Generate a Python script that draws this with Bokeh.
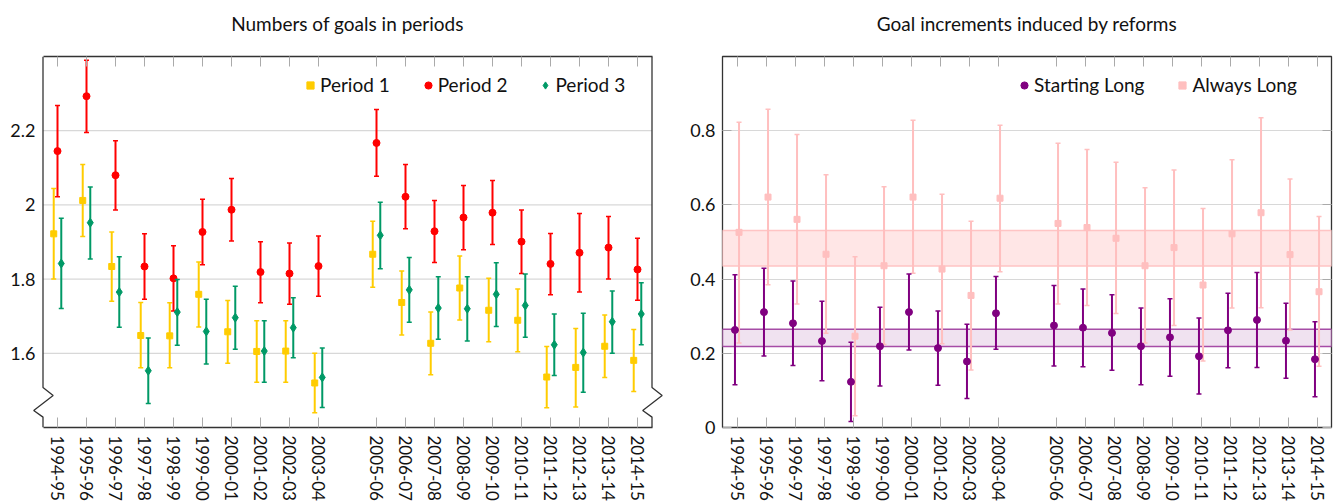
from bokeh.plotting import figure
from bokeh.layouts import row
from bokeh.models import (FixedTicker, CustomJSTickFormatter, LinearAxis, Legend, LegendItem,
                          BoxAnnotation, Range1d)
from bokeh.embed import file_html
from bokeh.resources import INLINE

FONT = "Lato"

seasons = ["1994-95", "1995-96", "1996-97", "1997-98", "1998-99", "1999-00", "2000-01",
           "2001-02", "2002-03", "2003-04", "2005-06", "2006-07", "2007-08", "2008-09",
           "2009-10", "2010-11", "2011-12", "2012-13", "2013-14", "2014-15"]

# Left panel: numbers of goals in periods (mean, lower, upper)
p1_mean = [1.922, 2.012, 1.834, 1.648, 1.647, 1.759, 1.658, 1.605, 1.606, 1.520,
           1.867, 1.737, 1.627, 1.776, 1.716, 1.689, 1.536, 1.562, 1.619, 1.581]
p1_low = [1.800, 1.915, 1.740, 1.561, 1.561, 1.671, 1.573, 1.522, 1.522, 1.440,
          1.778, 1.649, 1.542, 1.690, 1.631, 1.604, 1.453, 1.455, 1.535, 1.497]
p1_high = [2.044, 2.109, 1.927, 1.737, 1.736, 1.846, 1.742, 1.688, 1.688, 1.600,
           1.956, 1.822, 1.711, 1.862, 1.802, 1.773, 1.618, 1.667, 1.703, 1.664]

p2_mean = [2.145, 2.293, 2.080, 1.834, 1.802, 1.927, 1.987, 1.819, 1.815, 1.835,
           2.167, 2.022, 1.929, 1.966, 1.979, 1.901, 1.841, 1.871, 1.885, 1.826]
p2_low = [2.022, 2.195, 1.986, 1.746, 1.714, 1.839, 1.903, 1.736, 1.732, 1.754,
          2.077, 1.936, 1.845, 1.879, 1.893, 1.815, 1.758, 1.765, 1.800, 1.743]
p2_high = [2.268, 2.390, 2.173, 1.922, 1.890, 2.015, 2.071, 1.901, 1.897, 1.916,
           2.257, 2.109, 2.012, 2.052, 2.066, 1.986, 1.923, 1.977, 1.969, 1.910]

p3_mean = [1.842, 1.952, 1.765, 1.553, 1.711, 1.659, 1.696, 1.606, 1.669, 1.535,
           1.918, 1.771, 1.722, 1.720, 1.759, 1.729, 1.623, 1.602, 1.685, 1.706]
p3_low = [1.721, 1.854, 1.670, 1.465, 1.622, 1.571, 1.611, 1.522, 1.588, 1.454,
          1.828, 1.684, 1.638, 1.633, 1.672, 1.643, 1.540, 1.495, 1.600, 1.623]
p3_high = [1.964, 2.048, 1.860, 1.641, 1.799, 1.746, 1.781, 1.688, 1.750, 1.614,
           2.007, 1.858, 1.806, 1.806, 1.844, 1.814, 1.706, 1.708, 1.768, 1.790]

# Right panel: goal increments induced by reforms
sl_mean = [0.263, 0.311, 0.281, 0.233, 0.123, 0.219, 0.311, 0.214, 0.178, 0.308,
           0.275, 0.269, 0.255, 0.219, 0.243, 0.192, 0.262, 0.290, 0.234, 0.184]
sl_low = [0.115, 0.193, 0.167, 0.126, 0.016, 0.112, 0.209, 0.114, 0.078, 0.211,
          0.166, 0.164, 0.154, 0.115, 0.138, 0.090, 0.161, 0.162, 0.133, 0.083]
sl_high = [0.412, 0.429, 0.395, 0.340, 0.230, 0.324, 0.414, 0.314, 0.278, 0.407,
           0.383, 0.373, 0.358, 0.322, 0.347, 0.295, 0.362, 0.418, 0.335, 0.285]

al_mean = [0.526, 0.621, 0.561, 0.467, 0.246, 0.436, 0.621, 0.427, 0.356, 0.618,
           0.550, 0.539, 0.510, 0.436, 0.485, 0.384, 0.522, 0.579, 0.466, 0.366]
al_low = [0.228, 0.385, 0.333, 0.254, 0.032, 0.224, 0.416, 0.226, 0.155, 0.420,
          0.333, 0.329, 0.307, 0.228, 0.275, 0.179, 0.322, 0.323, 0.263, 0.165]
al_high = [0.823, 0.858, 0.790, 0.681, 0.460, 0.649, 0.828, 0.629, 0.556, 0.815,
           0.766, 0.749, 0.715, 0.646, 0.694, 0.590, 0.722, 0.835, 0.670, 0.569]

sl_band = (0.218, 0.265)
al_band = (0.435, 0.531)

left_yticks = [1.6, 1.8, 2.0, 2.2]
right_yticks = [0, 0.2, 0.4, 0.6, 0.8]

titles = ["Numbers of goals in periods", "Goal increments induced by reforms"]

# x position = season start year offset (gap for the missing 2004-05 season)
xpos = [int(s[:4]) - 1994 for s in seasons]
season_labels = {x: s for x, s in zip(xpos, seasons)}

YELLOW, RED, GREEN = "#FFCC00", "#FF0000", "#009966"
PURPLE, PINK = "#800080", "#FFBFBF"
FRAME = "#333333"
TICKC = "#AAAAAA"
GRIDC = "#D8D8D8"
TXT = "#111111"

XLO, XHI = -0.5, 20.5


def base_fig(title, width, xr, yr, yticks, mbl, mbr):
    p = figure(width=width, height=504, output_backend="svg", toolbar_location=None,
               x_range=Range1d(*xr), y_range=Range1d(*yr),
               min_border_left=mbl, min_border_right=mbr, min_border_top=56,
               min_border_bottom=77)
    p.xgrid.visible = False
    p.ygrid.grid_line_color = GRIDC
    p.ygrid.grid_line_width = 1.2
    p.background_fill_color = "white"
    p.border_fill_color = "white"

    xa = p.xaxis[0]
    xa.ticker = FixedTicker(ticks=xpos)
    xa.major_label_overrides = season_labels
    xa.major_label_orientation = "vertical"
    xa.major_label_text_font = FONT
    xa.major_label_text_font_size = "17px"
    xa.major_label_text_color = TXT
    xa.major_label_standoff = 8
    xa.major_tick_in = 10
    xa.major_tick_out = 0
    xa.major_tick_line_color = TICKC
    xa.minor_tick_line_color = None
    xa.axis_line_color = None

    ya = p.yaxis[0]
    ya.ticker = FixedTicker(ticks=yticks)
    ya.formatter = CustomJSTickFormatter(code="return tick.toString()")
    ya.major_label_text_font = FONT
    ya.major_label_text_font_size = "18px"
    ya.major_label_text_color = TXT
    ya.major_label_standoff = 7
    ya.major_tick_in = 9
    ya.major_tick_out = 0
    ya.major_tick_line_color = TICKC
    ya.minor_tick_line_color = None
    ya.axis_line_color = None

    # top axis: inward ticks, no tick labels, panel title as its axis label
    blank = CustomJSTickFormatter(code="return ''")
    top = LinearAxis(ticker=FixedTicker(ticks=xpos), formatter=blank,
                     major_tick_in=10, major_tick_out=0, major_tick_line_color=TICKC,
                     minor_tick_line_color=None, axis_line_color=None,
                     major_label_text_font_size="0px", major_label_standoff=0,
                     axis_label=title, axis_label_text_font=FONT,
                     axis_label_text_font_size="19px", axis_label_text_font_style="normal",
                     axis_label_text_color=TXT, axis_label_standoff=22)
    p.add_layout(top, "above")
    return p, xa, ya, top


def errbar(p, off, mean, low, high, color, marker, size):
    xs = [x + off for x in xpos]
    p.segment(x0=xs, y0=low, x1=xs, y1=high, line_color=color, line_width=2)
    p.scatter(x=xs, y=low, marker="dash", size=5, line_color=color, line_width=1.5)
    p.scatter(x=xs, y=high, marker="dash", size=5, line_color=color, line_width=1.5)
    return p.scatter(x=xs, y=mean, marker=marker, size=size, color=color)


def make_legend(items, loc):
    return Legend(items=items, orientation="horizontal", location=loc, margin=0, padding=0,
                  spacing=29, label_standoff=1, glyph_width=18, glyph_height=18,
                  label_text_font=FONT, label_text_font_size="19px", label_text_color=TXT,
                  border_line_color=None, background_fill_alpha=0)


# ---------------- left panel (broken y axis) ----------------
PAD = 0.5  # room inside the frame for the axis-break zigzags
p1, xa1, ya1, top1 = base_fig(titles[0], 668, (XLO - PAD, XHI + PAD),
                              (1.4, 2.4), left_yticks, 28, 2)
p1.outline_line_color = None
p1.ygrid.visible = False
ya1.major_tick_in = 0
ya1.major_label_standoff = -7
for ax in (xa1, top1):
    ax.bounds = (XLO, XHI)
    ax.axis_line_color = FRAME
    ax.axis_line_width = 1.3

# horizontal grid lines limited to the boxed area
p1.segment(x0=[XLO] * len(left_yticks), x1=[XHI] * len(left_yticks), y0=left_yticks,
           y1=left_yticks, line_color=GRIDC, line_width=1.2, level="underlay")

r1 = errbar(p1, -0.13, p1_mean, p1_low, p1_high, YELLOW, "square", 6)
r2 = errbar(p1, 0.0, p2_mean, p2_low, p2_high, RED, "circle", 7)
r3 = errbar(p1, 0.13, p3_mean, p3_low, p3_high, GREEN, "diamond", 9)

# vertical frame sides with axis-break zigzags
y0, y1 = p1.y_range.start, p1.y_range.end
b1, b2, b3, b4 = y0 + 0.108, y0 + 0.086, y0 + 0.046, y0 + 0.028
dxo, dxi = 0.35, 0.32
side_xs = [[x, x, x + dxo, x - dxi, x, x] for x in (XLO, XHI)]
side_ys = [[y1, b1, b2, b3, b4, y0], [y1, b1, b2, b3, b4, y0]]
p1.multi_line(xs=side_xs, ys=side_ys, line_color=FRAME, line_width=1.3)

leg1 = make_legend([LegendItem(label="Period 1", renderers=[r1]),
                    LegendItem(label="Period 2", renderers=[r2]),
                    LegendItem(label="Period 3", renderers=[r3])], (273, 331))
p1.add_layout(leg1)

# ---------------- right panel ----------------
p2, xa2, ya2, top2 = base_fig(titles[1], 665, (XLO, XHI), (0, 1.0), right_yticks, 54, 2)
p2.outline_line_color = FRAME
p2.outline_line_width = 1.3
p2.outline_line_alpha = 1
p2.add_layout(LinearAxis(ticker=FixedTicker(ticks=right_yticks),
                         formatter=CustomJSTickFormatter(code="return ''"),
                         major_tick_in=9, major_tick_out=0, major_tick_line_color=TICKC,
                         minor_tick_line_color=None, axis_line_color=None,
                         major_label_text_font_size="0px", major_label_standoff=0), "right")

p2.add_layout(BoxAnnotation(bottom=al_band[0], top=al_band[1], fill_color="#FFE6E6",
                            fill_alpha=1, line_color="#FFC4C4", line_alpha=1,
                            line_width=1.5, level="underlay"))
p2.add_layout(BoxAnnotation(bottom=sl_band[0], top=sl_band[1], fill_color="#F0E2F0",
                            fill_alpha=1, line_color="#A64CA6", line_alpha=1,
                            line_width=1.5, level="underlay"))

ra = errbar(p2, 0.07, al_mean, al_low, al_high, PINK, "square", 6)
rs = errbar(p2, -0.07, sl_mean, sl_low, sl_high, PURPLE, "circle", 7)

leg2 = make_legend([LegendItem(label="Starting Long", renderers=[rs]),
                    LegendItem(label="Always Long", renderers=[ra])], (293, 331))
p2.add_layout(leg2)

layout = row(p1, p2)
open("out.html", "w").write(file_html(layout, INLINE))
